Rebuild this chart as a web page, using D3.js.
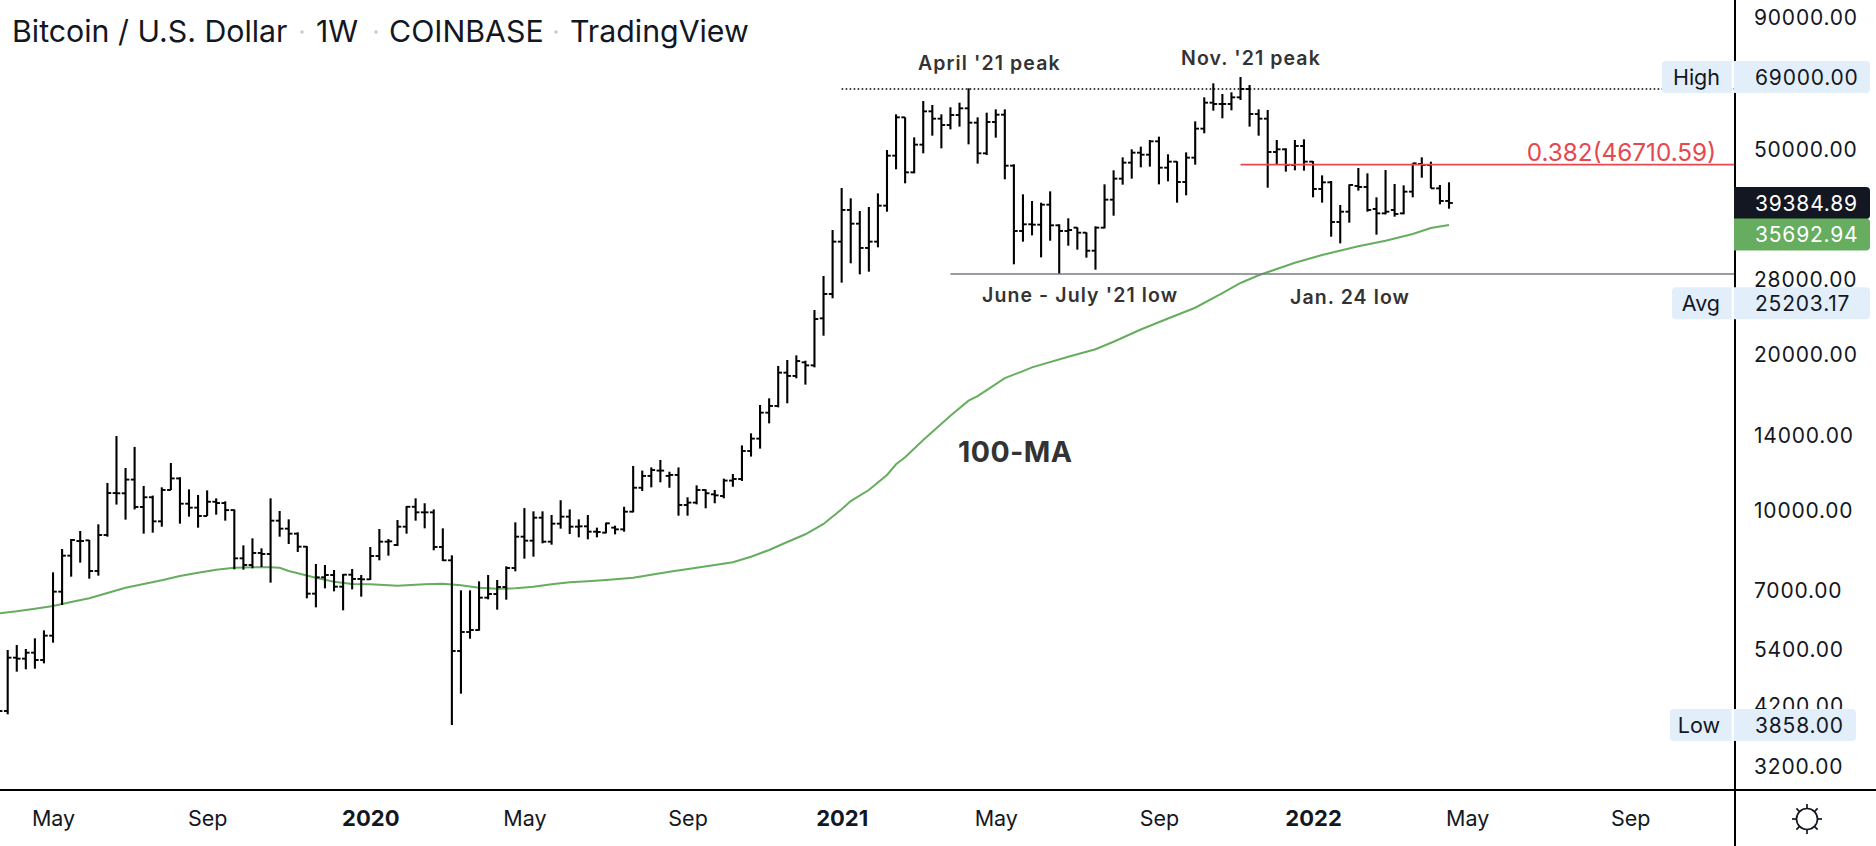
<!DOCTYPE html>
<html>
<head>
<meta charset="utf-8">
<script src="https://cdn.jsdelivr.net/npm/d3@7"></script>
<style>
  body { margin: 0; background: #fff; }
  text { font-family: Inter, "Noto Sans", sans-serif; }
</style>
</head>
<body>
<div id="chart"></div>
<script>
// weekly bars, Mon 25 Mar 2019 .. Mon 18 Apr 2022
const weeks = d3.utcMonday.range(new Date(Date.UTC(2019, 2, 25)), new Date(Date.UTC(2022, 3, 19)));

const highs = [4155,5387,5508,5411,5674,5879,7611,8444,8828,9148,8789,9424,11330,13960,12110,13300,11180,10710,11110,12380,11620,11010,10740,10960,10580,10440,10070,8583,8854,8469,
  10580,10000,9636,9094,8557,7899,7864,7690,7555,7725,7521,8519,9230,8828,9607,10220,10580,10350,10070,9257,8209,7025,7025,7312,7521,7356,7817,9508,10130,9985,
  9985,9823,10490,10070,9636,9823,9285,9494,9368,10190,12220,11970,12140,12550,11910,12140,10630,11210,11010,10980,11550,11790,13390,14130,16030,16510,19070,19580,19990,19520,
  24460,28460,34920,42100,40210,38010,38690,41110,49860,58440,57660,52750,62010,60920,58440,60290,61550,65610,57660,58870,59750,59750,46780,40930,39740,39440,41480,35820,36790,35340,
  34560,35500,42790,45550,48260,50010,50610,52130,52910,48910,47410,49340,56640,63030,67080,63970,64450,69000,66590,59750,59580,52130,50230,52130,52280,47480,44540,43430,39030,42790,
  46020,44940,40390,45610,42860,42600,46990,48260,47340,42670,43180];

const lows = [4004,4046,4892,4943,4957,5076,5565,6581,7466,7946,7400,7499,8920,10290,9621,10070,9040,9081,9326,10980,9452,9751,9285,9780,9838,9579,7713,7702,7748,7794,
  7269,8920,8634,8332,6779,6513,7088,6994,6427,7056,6830,7356,8029,8197,8557,9040,9579,9257,8394,8005,3858,4435,5665,5871,6749,6446,6739,7645,8088,8161,
  8660,8608,9244,9027,8894,8815,8894,9054,9013,9121,9941,10930,11110,11360,11090,9794,9794,10300,10120,10350,10580,11140,11430,12740,13200,14770,15860,16150,18050,17550,
  18950,21820,25770,27630,30110,28670,29010,32330,37890,45750,42990,44940,49130,53140,50230,54660,55320,51130,46920,48760,52670,43760,29980,33160,34100,30920,33300,28710,32570,32000,
  30880,29270,35180,37220,42730,43890,46160,46300,42790,43370,39440,40750,46710,53700,59400,57410,59490,62290,55320,53140,42160,46640,45280,45550,45480,40390,39440,33900,32910,36080,
  41610,37890,34210,37450,37060,37450,40390,44080,42040,39150,38400];

const opens = [4106,4106,5206,5183,5323,5152,5742,6984,8197,8750,8776,7656,8987,10830,10820,11500,10180,10630,9550,10980,11560,10330,10150,9780,10420,10360,10040,8100,7864,8295,
  8258,9579,9244,9040,8532,6922,7444,7521,7141,7532,7389,7378,8185,8724,8596,9326,10190,9941,9941,8519,8029,5363,5836,5888,6800,6911,7130,7759,8920,8763,
  9707,8724,9452,9751,9326,9340,9121,9081,9285,9216,9970,11090,11690,11970,11690,11740,10270,10380,10980,10770,10690,11450,11530,13060,13800,15490,15960,18510,18240,19380,
  19120,23570,26270,33160,38180,35920,32240,33160,38920,48620,57660,45140,51060,59220,57320,55730,58260,60020,56310,49130,56480,58350,46500,34770,35820,35760,39090,35660,34770,35290,
  34510,31850,35290,39970,43890,47130,49270,48830,51820,46090,47340,43240,48190,54830,61550,61190,61190,63030,65410,58520,57320,49420,50010,46640,50760,47340,41920,43180,36190,37890,
  42480,42290,38350,37610,38180,37610,41420,46850,46640,42040,39740];

const closes = [4106,5206,5183,5323,5152,5742,6984,8197,8789,8750,7656,8987,10830,10820,11500,10180,10630,9550,10980,11560,10330,10150,9780,10420,10360,10040,8100,7864,8295,8258,
  9579,9244,9040,8532,6922,7444,7521,7141,7532,7389,7378,8185,8724,8737,9326,10190,9941,9941,8519,8029,5363,5836,5888,6800,6911,7130,7759,8920,8763,9707,
  8724,9452,9751,9326,9340,9121,9108,9466,9216,9970,11090,11690,12000,11970,11740,10270,10380,10980,10820,10720,11450,11530,13060,13800,15490,15960,18510,18240,19490,19120,
  23500,26270,33160,38180,35920,32240,33160,38920,48620,57660,45140,51060,59220,57320,55730,58260,60020,56310,49130,56480,58350,46500,34770,35820,35760,39090,35660,34770,34920,34510,
  31850,35290,39970,43890,47130,49270,48830,51820,46090,47340,43240,48190,54830,61550,61190,61190,63030,65410,58520,57320,49420,50010,46640,50760,47340,41920,43180,36190,37890,42670,
  42290,38180,37610,37890,37500,41420,46990,46640,42040,39740,39384.89];

// 100 week MA, read every few weeks (index into weeks)
const maWeek = [0,2,4,6,8,10,12,14,16,18,20,22,24,26,28,30,31,32,33,35,37,39,41,44,47,49,51,53,55,57,59,61,63,65,67,70,74,77,81,83,85,87,89,91,93,94,96,98,99,100,102,105,107,108,111,113,114,118,121,123,126,129,132,135,137,139,141,143,146,150,153,156,158,160];
const maValues = [6343,6399,6474,6552,6670,6780,6942,7108,7226,7346,7488,7599,7701,7770,7783,7783,7770,7656,7578,7431,7300,7226,7216,7171,7216,7236,7184,7108,7076,7089,
  7140,7216,7281,7313,7356,7431,7633,7770,7959,8159,8406,8711,9015,9438,10080,10450,10980,11740,12310,12700,13720,15280,16340,16680,18070,18640,18950,19870,20540,21240,
  22430,23550,24710,26380,27590,28550,29360,30190,31250,32480,33300,34300,35240,35692.94];

const priceTicks = [90000,50000,28000,20000,14000,10000,7000,5400,4200,3200];
const timeTicks = ["2019-05-06","2019-09-02","2020-01-06","2020-05-04","2020-09-07","2021-01-04","2021-05-03","2021-09-06","2022-01-03","2022-05-02","2022-09-05"];
const timeLabels = ["May","Sep","2020","May","Sep","2021","May","Sep","2022","May","Sep"];

const peakLevel = 65410, lowLevel = 28710, fibLevel = 46710.59;
const highValue = 69000, lowValue = 3858, avgValue = 25203.17, lastClose = 39384.89, lastMA = 35692.94;

const width = 1876, height = 846;
const axisX = 1735, axisY = 790;

const svg = d3.select("#chart").append("svg")
  .attr("width", width)
  .attr("height", height)
  .style("display", "block");

const x = d3.scaleUtc().domain([weeks[1], weeks[160]]).range([7.7, 1449]);
const y = d3.scaleLog().domain([lowValue, highValue]).range([725, 77]);
const fmt = d3.format(".2f");

svg.append("clipPath").attr("id", "plot")
  .append("rect").attr("width", axisX).attr("height", axisY);
const plot = svg.append("g").attr("clip-path", "url(#plot)");

// moving average
plot.append("path")
  .datum(maWeek.map((w, i) => [weeks[w], maValues[i]]))
  .attr("fill", "none")
  .attr("stroke", "#66ad5f")
  .attr("stroke-width", 2)
  .attr("d", d3.line().x(d => x(d[0])).y(d => y(d[1])));

// OHLC bars
const bars = plot.append("g").attr("stroke", "#000").attr("fill", "none")
  .selectAll("g").data(weeks).join("g")
  .attr("transform", d => `translate(${x(d)},0)`);
bars.append("line").attr("stroke-width", 2.1)
  .attr("y1", (d, i) => y(highs[i])).attr("y2", (d, i) => y(lows[i]));
bars.append("line").attr("stroke-width", 1.9)
  .attr("x1", -3.8).attr("x2", 0)
  .attr("y1", (d, i) => y(opens[i])).attr("y2", (d, i) => y(opens[i]));
bars.append("line").attr("stroke-width", 1.9)
  .attr("x1", 0).attr("x2", 3.8)
  .attr("y1", (d, i) => y(closes[i])).attr("y2", (d, i) => y(closes[i]));

// horizontal levels
plot.append("line")
  .attr("x1", x(weeks[93])).attr("x2", axisX)
  .attr("y1", y(peakLevel)).attr("y2", y(peakLevel))
  .attr("stroke", "#000").attr("stroke-width", 1.6).attr("stroke-dasharray", "1.6 2.4");
plot.append("line")
  .attr("x1", x(weeks[105])).attr("x2", axisX)
  .attr("y1", y(lowLevel)).attr("y2", y(lowLevel))
  .attr("stroke", "#787b86").attr("stroke-width", 1.7);
plot.append("line")
  .attr("x1", x(weeks[137])).attr("x2", axisX)
  .attr("y1", y(fibLevel)).attr("y2", y(fibLevel))
  .attr("stroke", "#e5484f").attr("stroke-width", 1.8);

svg.append("text")
  .attr("x", 1716).attr("y", 161).attr("text-anchor", "end")
  .attr("font-size", 24.3).attr("fill", "#e5484f")
  .text(`0.382(${fibLevel})`);

// notes
function note(txt, left, cy, size, weight, spacing) {
  svg.append("text")
    .attr("x", left).attr("y", cy).attr("dy", "0.36em")
    .attr("font-size", size).attr("font-weight", weight)
    .attr("letter-spacing", spacing)
    .attr("fill", "#333")
    .text(txt);
}
note("April '21 peak", 918, 62.5, 19.5, 600, 1.1);
note("Nov. '21 peak", 1181, 58, 19.5, 600, 1.1);
note("June - July '21 low", 982, 295, 19.5, 600, 1.1);
note("Jan. 24 low", 1290, 297, 19.5, 600, 1.1);
note("100-MA", 958, 452, 28.5, 700, 0.45);

// axes
svg.append("line").attr("x1", 0).attr("x2", width).attr("y1", axisY).attr("y2", axisY)
  .attr("stroke", "#000").attr("stroke-width", 2);
svg.append("line").attr("x1", axisX).attr("x2", axisX).attr("y1", 0).attr("y2", height)
  .attr("stroke", "#000").attr("stroke-width", 2);

const bottomAxis = svg.append("g")
  .attr("transform", `translate(0,${axisY})`)
  .call(d3.axisBottom(x)
    .tickValues(timeTicks.map(d => new Date(d + "T00:00:00Z")))
    .tickFormat((d, i) => timeLabels[i])
    .tickSize(0).tickPadding(0));
bottomAxis.select(".domain").remove();
bottomAxis.selectAll("text")
  .attr("y", 28).attr("dy", "0.36em")
  .attr("fill", "#131722")
  .attr("font-family", "Inter")
  .attr("font-size", (d, i) => /^20/.test(timeLabels[i]) ? 22 : 21.5)
  .attr("font-weight", (d, i) => /^20/.test(timeLabels[i]) ? 700 : 400);

const rightAxis = svg.append("g")
  .attr("transform", `translate(${axisX},0)`)
  .call(d3.axisRight(y)
    .tickValues(priceTicks)
    .tickFormat(fmt)
    .tickSize(0).tickPadding(19));
rightAxis.select(".domain").remove();
rightAxis.selectAll("text")
  .attr("fill", "#131722")
  .attr("font-family", "Inter")
  .attr("font-size", 21)
  .attr("letter-spacing", 0.8);

// price labels on the right
function box(x0, x1, y0, y1, rLeft, rRight, fill) {
  const p = d3.path();
  p.moveTo(x0 + rLeft, y0);
  p.lineTo(x1 - rRight, y0);
  p.arcTo(x1, y0, x1, y0 + rRight, rRight);
  p.lineTo(x1, y1 - rRight);
  p.arcTo(x1, y1, x1 - rRight, y1, rRight);
  p.lineTo(x0 + rLeft, y1);
  p.arcTo(x0, y1, x0, y1 - rLeft, rLeft);
  p.lineTo(x0, y0 + rLeft);
  p.arcTo(x0, y0, x0 + rLeft, y0, rLeft);
  p.closePath();
  svg.append("path").attr("d", p.toString()).attr("fill", fill);
}
function tag(value, cy, right, fill, color) {
  box(1734, right, cy - 16, cy + 16, 0, 4, fill);
  svg.append("text")
    .attr("x", 1755).attr("y", cy).attr("dy", "0.36em")
    .attr("font-size", 21).attr("letter-spacing", 0.8).attr("fill", color)
    .text(fmt(value));
}
function nameTag(name, cy, left) {
  box(left, 1731.7, cy - 16, cy + 16, 4, 0, "#e3eefb");
  svg.append("text")
    .attr("x", 1720).attr("y", cy).attr("dy", "0.36em").attr("text-anchor", "end")
    .attr("font-size", 21.5).attr("fill", "#131722")
    .text(name);
}
nameTag("High", y(highValue), 1662);
tag(highValue, y(highValue), 1870, "#e3eefb", "#131722");
tag(lastClose, y(lastClose), 1870, "#131722", "#fff");
tag(lastMA, y(lastClose) + 31.5, 1870, "#66ad5f", "#fff");
nameTag("Avg", y(avgValue), 1672);
tag(avgValue, y(avgValue), 1870, "#e3eefb", "#131722");
nameTag("Low", y(lowValue), 1670);
tag(lowValue, y(lowValue), 1856, "#e3eefb", "#131722");

// title
const titleParts = [["Bitcoin / U.S. Dollar", 12], ["1W", 316], ["COINBASE", 389], ["TradingView", 570]];
const titleDots = [302, 376, 556];
svg.append("g").selectAll("text").data(titleParts).join("text")
  .attr("x", d => d[1]).attr("y", 41.5)
  .attr("font-size", 30.3).attr("fill", "#131722")
  .text(d => d[0]);
svg.append("g").selectAll("circle").data(titleDots).join("circle")
  .attr("cx", d => d).attr("cy", 32).attr("r", 1.8).attr("fill", "#c8cbd3");

// settings icon
const icon = svg.append("g").attr("transform", "translate(1807,819)")
  .attr("fill", "none").attr("stroke", "#131722").attr("stroke-width", 1.7);
icon.append("circle").attr("r", 10.5);
d3.range(8).forEach(k => {
  const a = k * Math.PI / 4;
  icon.append("line")
    .attr("x1", 10.5 * Math.cos(a)).attr("y1", 10.5 * Math.sin(a))
    .attr("x2", 15 * Math.cos(a)).attr("y2", 15 * Math.sin(a));
});
</script>
</body>
</html>
